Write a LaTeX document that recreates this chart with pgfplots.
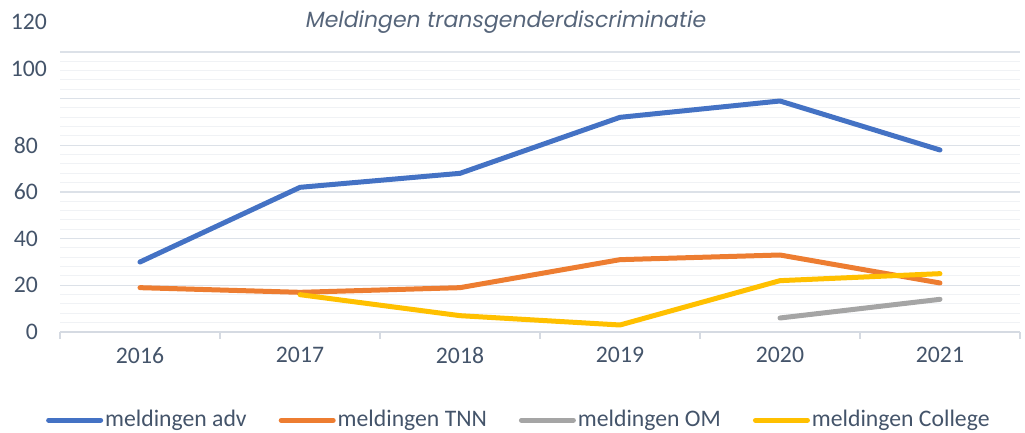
\documentclass[border=0pt]{standalone}
\usepackage{fontspec}
\setmainfont{Carlito}
\newfontfamily\titlefont{Poppins}
\usepackage{pgfplots}
\pgfplotsset{compat=1.18}
\definecolor{cblue}{HTML}{4472C4}
\definecolor{corange}{HTML}{ED7D31}
\definecolor{cgray}{HTML}{A5A5A5}
\definecolor{cyellow}{HTML}{FFC000}
\definecolor{gridmaj}{HTML}{DCE1E8}
\definecolor{gridmin}{HTML}{F0F2F5}
\definecolor{axiscol}{HTML}{D5DAE2}
\definecolor{labcol}{HTML}{44546A}
\definecolor{titcol}{HTML}{56657A}
\begin{document}
\begin{tikzpicture}
\path[use as bounding box] (-30pt,-50.5pt) rectangle (482.5pt,166pt);
\begin{axis}[
  scale only axis, width=480pt, height=158.67pt,
  xmin=-0.5, xmax=5.5, ymin=0, ymax=136,
  xtick={0,...,5}, xticklabels={2016,2017,2018,2019,2020,2021},
  ytick={0,20,...,120}, yticklabels={0,20,40,60,80,{},{}},
  minor y tick num=4,
  ymajorgrids, yminorgrids,
  major grid style={color=gridmaj, line width=0.75pt},
  minor grid style={color=gridmin, line width=0.5pt},
  axis x line*=bottom, axis y line*=left,
  y axis line style={draw=none},
  x axis line style={color=axiscol, line width=0.75pt},
  xtick style={draw=none}, ytick style={draw=none},
  minor tick length=0pt,
  tick label style={font=\fontsize{11.85}{14}\selectfont, text=labcol},
  yticklabel style={xshift=-7.5pt},
  xticklabel style={yshift=-4pt},
  extra x ticks={-0.5,0.5,1.5,2.5,3.5,4.5,5.5},
  extra x tick labels={},
  extra x tick style={grid=none, xtick style={draw=axiscol, line width=0.75pt}, major tick length=3.5pt, tick align=outside},
  extra y ticks={112.8,132.8},
  extra y tick labels={100,120},
  extra y tick style={grid=none, yticklabel style={xshift=4.5pt}},
  legend columns=4,
  legend style={at={(0.478,-0.278)}, anchor=center, draw=none, fill=none,
    font=\fontsize{11.85}{14}\selectfont, text=labcol,
    /tikz/every even column/.append style={column sep=15pt},
    nodes={inner xsep=1pt}},
  legend cell align=left,
  legend image code/.code={\draw[#1, line width=2.5pt, line cap=round] (0pt,0pt) -- (26pt,0pt);},
  every axis plot/.append style={line width=2.5pt, line cap=round, line join=round},
]
\addplot[cblue] coordinates {(0,30)(1,62)(2,68)(3,92)(4,99)(5,78)};
\addlegendentry{meldingen adv}
\addplot[corange] coordinates {(0,19)(1,17)(2,19)(3,31)(4,33)(5,21)};
\addlegendentry{meldingen TNN}
\addplot[cgray] coordinates {(4,6)(5,14)};
\addlegendentry{meldingen OM}
\addplot[cyellow] coordinates {(1,16)(2,7)(3,3)(4,22)(5,25)};
\addlegendentry{meldingen College}
\end{axis}
\node[text=titcol, font=\titlefont\itshape\fontsize{11}{13}\selectfont] at (223pt,155pt) {Meldingen transgenderdiscriminatie};
\end{tikzpicture}
\end{document}
